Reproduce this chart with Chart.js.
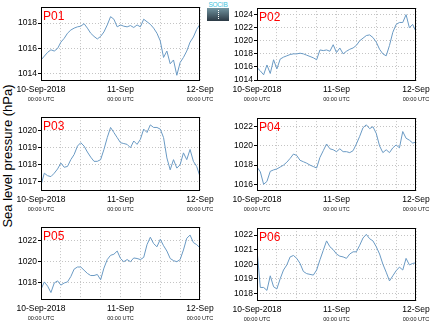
<!DOCTYPE html>
<html>
<head>
<meta charset="utf-8">
<script src="https://cdn.jsdelivr.net/npm/chart.js@4.4.1/dist/chart.umd.min.js"></script>
<style>
  html, body { margin: 0; padding: 0; background: #fff; }
  body { width: 434px; height: 327px; position: relative; overflow: hidden; font-family: "Liberation Sans", Arial, sans-serif; }
  .panel { position: absolute; }
  #ylab { position: absolute; width: 200px; height: 16px; line-height: 16px; text-align: center;
          font-size: 13px; color: #000; left: -92px; top: 148px; transform: rotate(-90deg); }
  #logo { position: absolute; left: 207px; top: 1px; width: 22px; }
  #logo .lt { font: 6.5px "Liberation Sans", sans-serif; color: #3ec3dc; line-height: 7px; text-align: center; letter-spacing: -0.2px; white-space: nowrap; }
  #logo .lb { height: 13px; background: linear-gradient(#7194a0, #2b3944); position: relative; }
  #logo .lb::after { content: ""; position: absolute; left: 11px; top: 2px; height: 9px; border-left: 1px dotted #fff; }
</style>
</head>
<body>
<div id="ylab">Sea level pressure (hPa)</div>
<div id="logo"><div class="lt">SOCIB</div><div class="lb"></div></div>
<script>
// hours since 10-Sep-2018 00:00 UTC
const hours = [0,1,2,3,4,5,6,7,8,9,10,11,12,13,14,15,16,17,18,19,20,21,22,23,24,
  25,26,27,28,29,30,31,32,33,34,35,36,37,38,39,40,41,42,43,44,45,46,47,48];

const dayLabels = ["10-Sep-2018", "11-Sep", "12-Sep"];
const timeLabel = "00:00 UTC";
const panelNames = ["P01", "P02", "P03", "P04", "P05", "P06"];

// sea level pressure (hPa), hourly
const p01 = [1015.1,1015.4,1015.7,1015.9,1015.8,1016.0,1016.5,1016.8,1017.2,1017.45,1017.6,1017.7,1017.75,
  1017.95,1017.6,1017.2,1016.95,1016.75,1016.95,1017.3,1017.85,1018.5,1018.3,1017.7,1017.85,1017.75,1017.7,
  1017.8,1017.65,1017.85,1017.7,1018.3,1018.1,1017.9,1017.6,1017.2,1016.6,1015.3,1015.8,1014.8,1015.1,
  1013.9,1014.9,1015.3,1015.8,1016.5,1016.9,1017.5,1017.9];
const p02 = [1015.9,1015.4,1014.8,1016.3,1015.0,1017.1,1015.7,1017.2,1017.5,1017.7,1017.9,1018.0,1018.0,
  1018.1,1018.0,1017.8,1017.6,1017.4,1017.1,1018.6,1018.5,1018.6,1018.4,1019.4,1018.2,1018.9,1018.0,
  1018.4,1018.7,1018.9,1019.3,1020.0,1020.4,1020.8,1020.9,1020.5,1019.8,1018.7,1018.0,1017.7,1019.3,
  1021.3,1022.5,1022.8,1022.8,1024.0,1022.0,1022.5,1021.4];
const p03 = [1016.8,1017.5,1017.35,1017.3,1017.5,1017.75,1018.1,1017.85,1017.9,1018.3,1018.6,1019.1,1019.3,
  1019.1,1018.75,1018.45,1018.2,1018.2,1018.3,1018.9,1019.6,1020.2,1019.9,1019.6,1019.3,1019.25,1019.2,
  1019.0,1019.4,1019.2,1019.5,1020.1,1019.9,1020.35,1020.2,1020.2,1020.1,1019.6,1018.4,1017.7,1018.3,
  1017.8,1018.0,1018.7,1018.3,1018.9,1018.2,1017.9,1017.3];
const p04 = [1017.8,1017.3,1016.0,1016.3,1017.35,1017.5,1017.6,1017.8,1018.0,1018.3,1018.7,1019.15,1019.0,
  1018.5,1018.35,1018.2,1018.0,1017.85,1017.7,1018.8,1019.5,1020.2,1019.7,1019.6,1019.4,1019.7,1019.4,
  1019.4,1019.3,1019.5,1020.2,1021.0,1021.9,1022.2,1021.8,1022.0,1021.3,1020.0,1019.3,1019.6,1019.3,
  1019.8,1020.1,1019.8,1021.5,1020.8,1020.6,1020.3,1020.4];
const p05 = [1017.4,1018.1,1017.7,1017.1,1018.0,1018.2,1017.8,1018.0,1018.1,1018.6,1019.3,1019.5,1019.5,
  1019.2,1018.9,1018.7,1018.7,1018.8,1018.3,1019.4,1020.2,1020.6,1020.7,1021.0,1020.3,1020.0,1020.2,
  1020.0,1020.35,1020.3,1020.2,1020.4,1021.6,1022.3,1021.7,1021.4,1022.1,1021.5,1021.0,1020.3,1020.1,
  1020.0,1020.2,1021.1,1022.2,1022.5,1021.8,1021.6,1021.3];
const p06 = [1021.0,1018.4,1018.4,1018.2,1019.2,1018.45,1018.3,1019.0,1019.6,1019.95,1020.5,1020.6,1020.4,
  1020.05,1019.5,1019.35,1019.3,1019.25,1019.6,1020.3,1020.95,1021.6,1021.2,1021.0,1020.7,1020.55,1020.5,
  1020.4,1020.7,1020.85,1020.85,1021.3,1021.8,1022.05,1021.75,1021.6,1021.2,1020.7,1020.0,1019.45,1018.85,
  1019.2,1019.55,1019.8,1019.6,1020.4,1019.95,1020.05,1020.1];

const series = [p01, p02, p03, p04, p05, p06];

// y axis range per panel: [min, max, step]
const yRanges = [
  [1013.45, 1019.25, 2],
  [1013.85, 1025.0, 2],
  [1016.45, 1020.81, 1],
  [1015.3, 1022.9, 2],
  [1016.4, 1023.25, 2],
  [1017.47, 1022.48, 1],
];

// plot area boxes on the page: left, top, width, height
const boxes = [
  [41, 7, 159, 74], [257, 8, 159, 73],
  [41, 117, 159, 74], [257, 118, 159, 73],
  [41, 227, 159, 73], [257, 228, 159, 73],
];

const FONT = "Liberation Sans";
const PAD_L = 40, PAD_T = 6, PAD_R = 20, PAD_B = 28;

const decor = {
  id: "decor",
  afterDatasetsDraw(chart, args, opts) {
    const { ctx, chartArea: a, scales: { x } } = chart;
    ctx.save();
    ctx.strokeStyle = "#000";
    ctx.lineWidth = 1;
    ctx.strokeRect(Math.round(a.left) + 0.5, Math.round(a.top) + 0.5,
      Math.round(a.right - a.left) - 1, Math.round(a.bottom - a.top) - 1);

    ctx.fillStyle = "#ff0000";
    ctx.font = "12px " + FONT;
    ctx.textAlign = "left";
    ctx.textBaseline = "alphabetic";
    ctx.fillText(opts.name, a.left + 2, a.top + 12.5);

    ctx.fillStyle = "#111";
    ctx.font = "5.5px " + FONT;
    ctx.textAlign = "center";
    ctx.textBaseline = "middle";
    [0, 24, 48].forEach(v => ctx.fillText(timeLabel, x.getPixelForValue(v), a.bottom + 18));
    ctx.restore();
  }
};

series.forEach((vals, i) => {
  const [L, T, W, H] = boxes[i];
  const wrap = document.createElement("div");
  wrap.className = "panel";
  wrap.style.left = (L - PAD_L) + "px";
  wrap.style.top = (T - PAD_T) + "px";
  const cv = document.createElement("canvas");
  cv.width = W + PAD_L + PAD_R;
  cv.height = H + PAD_T + PAD_B;
  cv.style.width = cv.width + "px";
  cv.style.height = cv.height + "px";
  wrap.appendChild(cv);
  document.body.appendChild(wrap);

  const [ymin, ymax, ystep] = yRanges[i];

  new Chart(cv, {
    type: "line",
    data: {
      datasets: [{
        data: hours.map((h, k) => ({ x: h, y: vals[k] })),
        borderColor: "#6a9ac4",
        borderWidth: 1,
        pointRadius: 0,
        tension: 0,
      }],
    },
    options: {
      responsive: false,
      animation: false,
      devicePixelRatio: 1,
      layout: { padding: { top: PAD_T, right: PAD_R, left: 0, bottom: 0 } },
      plugins: {
        legend: { display: false },
        tooltip: { enabled: false },
        decor: { name: panelNames[i] },
      },
      scales: {
        x: {
          type: "linear",
          min: 0,
          max: 48,
          afterFit: s => { s.height = PAD_B; },
          border: { display: false, dash: [1, 2] },
          grid: { color: "#c4c4c4", drawTicks: false },
          ticks: {
            stepSize: 6,
            autoSkip: false,
            maxRotation: 0,
            padding: 4,
            color: "#000",
            font: { family: FONT, size: 8.5 },
            callback: v => (v % 24 === 0 ? dayLabels[v / 24] : ""),
          },
        },
        y: {
          min: ymin,
          max: ymax,
          afterFit: s => { s.width = PAD_L; },
          border: { display: false, dash: [1, 2] },
          grid: { color: "#c4c4c4", tickLength: 3, tickColor: "#000" },
          ticks: {
            stepSize: ystep,
            includeBounds: false,
            padding: 1,
            color: "#000",
            font: { family: FONT, size: 8.5 },
            callback: v => String(v),
          },
        },
      },
    },
    plugins: [decor],
  });
});
</script>
</body>
</html>
